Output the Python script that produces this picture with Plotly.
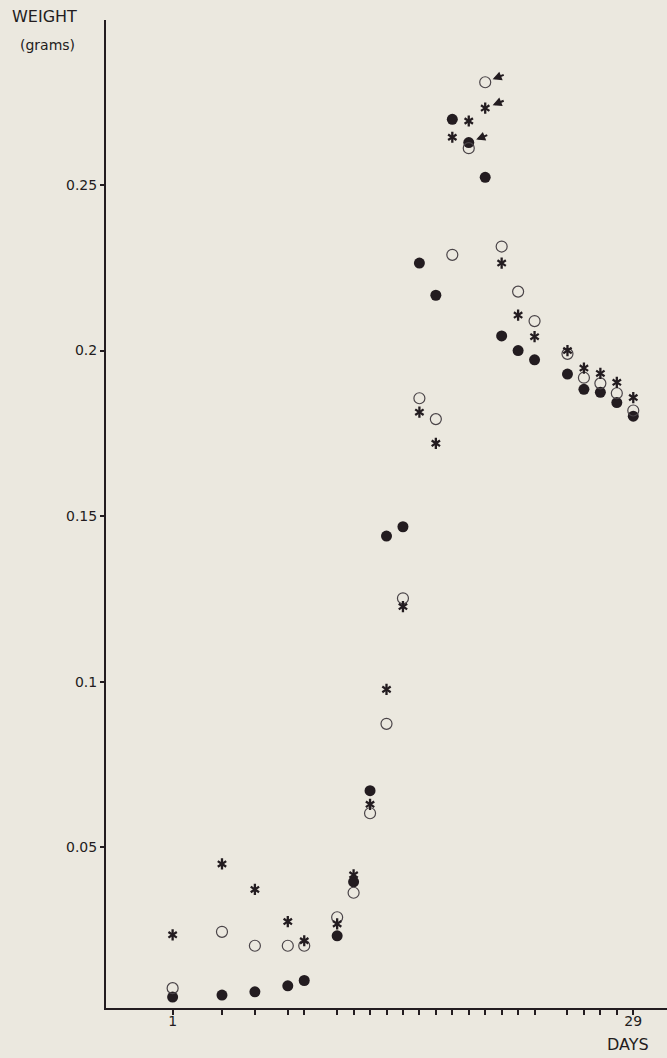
import plotly.graph_objects as go

# ---- data ----
days = [1, 4, 6, 8, 9, 11, 12, 13, 14, 15, 16, 17, 18, 19, 20, 21, 22, 23, 25, 26, 27, 28, 29]
filled = [0.0048, 0.0054, 0.0064, 0.0082, 0.0098, 0.0233, 0.0396, 0.0671, 0.1440, 0.1468,
          0.2264, 0.2167, 0.2698, 0.2628, 0.2523, 0.2044, 0.2000, 0.1972, 0.1929, 0.1883,
          0.1874, 0.1843, 0.1802]
open_c = [0.0075, 0.0245, 0.0203, 0.0203, 0.0203, 0.0289, 0.0363, 0.0603, 0.0873, 0.1252,
          0.1856, 0.1793, 0.2289, 0.2611, 0.2810, 0.2314, 0.2178, 0.2089, 0.1990, 0.1918,
          0.1901, 0.1871, 0.1819]
aster = [0.0236, 0.0450, 0.0373, 0.0276, 0.0218, 0.0269, 0.0417, 0.0630, 0.0977, 0.1227,
         0.1814, 0.1720, 0.2644, 0.2693, 0.2732, 0.2264, 0.2107, 0.2042, 0.2000, 0.1947,
         0.1931, 0.1904, 0.1858]
ytick_vals = [0.05, 0.1, 0.15, 0.2, 0.25]
ytick_text = ["0.05", "0.1", "0.15", "0.2", "0.25"]
xtick_vals = days
xtick_text = ["1" if d == 1 else ("29" if d == 29 else "") for d in days]
# arrowed points: (day, series)
arrow_marks = [(20, "open"), (20, "aster"), (19, "filled")]

INK = "#231c20"
BG = "#ebe8df"
FONT = "DejaVu Sans, sans-serif"

fig = go.Figure()
fig.add_trace(go.Scatter(x=days, y=filled, mode="markers",
                         marker=dict(symbol="circle", size=11, color=INK, line=dict(width=0))))
fig.add_trace(go.Scatter(x=days, y=open_c, mode="markers",
                         marker=dict(symbol="circle-open", size=11, color="#4a4448",
                                     line=dict(width=1.2, color="#4a4448"))))
for sym in ["y-up", "y-down"]:
    fig.add_trace(go.Scatter(x=days, y=aster, mode="markers",
                             marker=dict(symbol=sym, size=7, color=INK,
                                         line=dict(width=2.3, color=INK))))

series = {"filled": filled, "open": open_c, "aster": aster}
for d, s in arrow_marks:
    yv = series[s][days.index(d)]
    fig.add_annotation(x=d, y=yv, xref="x", yref="y", text="", showarrow=True,
                       arrowhead=2, arrowsize=0.9, arrowwidth=2, arrowcolor=INK,
                       ax=20, ay=-8, standoff=8)

fig.add_annotation(text="WEIGHT", xref="paper", yref="paper", x=-0.109, y=1.004,
                   xanchor="center", yanchor="middle",
                   showarrow=False, font=dict(family=FONT, size=16, color=INK))
fig.add_annotation(text="(grams)", xref="paper", yref="paper", x=-0.105, y=0.9747,
                   xanchor="center", yanchor="middle",
                   showarrow=False, font=dict(family=FONT, size=14, color=INK))
fig.add_annotation(text="DAYS", xref="paper", yref="paper", x=0.930, y=-0.0368,
                   xanchor="center", yanchor="middle",
                   showarrow=False, font=dict(family=FONT, size=16, color=INK))

fig.update_layout(
    width=667, height=1058,
    margin=dict(l=106, r=0, t=20, b=50),
    paper_bgcolor=BG, plot_bgcolor=BG,
    showlegend=False,
    font=dict(family=FONT, size=14, color=INK),
    xaxis=dict(range=[-3.05, 31.05], showgrid=False, zeroline=False,
               showline=True, linecolor=INK, linewidth=2,
               tickmode="array", tickvals=xtick_vals, ticktext=xtick_text,
               ticks="outside", ticklen=5, tickwidth=2, tickcolor=INK,
               ticklabelstandoff=-6,
               tickfont=dict(family=FONT, size=14, color=INK)),
    yaxis=dict(range=[0.0015, 0.2998], showgrid=False, zeroline=False,
               showline=True, linecolor=INK, linewidth=2,
               tickmode="array", tickvals=ytick_vals, ticktext=ytick_text,
               ticks="outside", ticklen=4, tickwidth=1.5, tickcolor=INK,
               tickfont=dict(family=FONT, size=14, color=INK)),
)

fig.write_html("out.html", config={"displayModeBar": False},
               post_script="document.body.style.margin='0';document.body.style.overflow='hidden';")
